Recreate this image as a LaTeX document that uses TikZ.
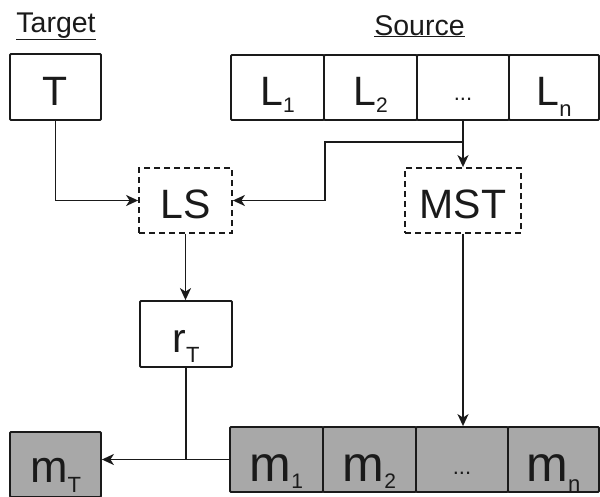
\documentclass[tikz,border=0pt]{standalone}
\usepackage{fontspec}
\setmainfont{Liberation Sans}
\usetikzlibrary{arrows.meta}
\definecolor{ink}{HTML}{1A1A1A}
\definecolor{cellgray}{HTML}{A8A8A8}
\newcommand\fbig{\fontsize{41}{41}\selectfont}
\newcommand\fm{\fontsize{50}{50}\selectfont}
\newcommand\fmt{\fontsize{45}{45}\selectfont}
\newcommand\fhead{\fontsize{28.5}{28.5}\selectfont}
\newcommand\fdots{\fontsize{22}{22}\selectfont}
\newcommand\sbd[1]{\raisebox{-7pt}[0pt][0pt]{\fontsize{21}{21}\selectfont #1}}
\newcommand\sbl[1]{\raisebox{-10.5pt}[0pt][0pt]{\fontsize{22}{22}\selectfont #1}}
\begin{document}
\begin{tikzpicture}[x=1pt,y=-1pt,
  box/.style={draw=ink, line width=1.8pt, rounded corners=1pt, inner sep=0pt,
    text=ink, text depth=0pt, text height=36pt, font=\fbig},
  dbox/.style={box, dashed, dash pattern=on 6pt off 4pt, rounded corners=0pt},
  mbox/.style={box, fill=cellgray, text height=43pt, font=\fm},
  head/.style={text=ink, font=\fhead, inner sep=0pt, anchor=base},
  conn/.style={draw=ink, line width=1.8pt},
  arr/.style={conn, -{Stealth[length=12pt,width=11pt,inset=3.5pt]}}]
\useasboundingbox (0,0) rectangle (600,496);
% headings
\node[head] (tgt) at (56,32) {\underline{Target}};
\node[head] (src) at (419.5,35) {\underline{Source}};
% top row
\node[box, minimum width=91pt, minimum height=66pt] (T) at (55.5,87) {T};
\node[box, minimum width=93pt, minimum height=65pt] (L1) at (277.5,87.5) {L\sbd{1}};
\node[box, minimum width=93pt, minimum height=65pt] (L2) at (370.5,87.5) {L\sbd{2}};
\node[box, minimum width=92pt, minimum height=65pt, font=\fdots, text height=25pt] (Ld) at (463,87.5) {...};
\node[box, minimum width=90pt, minimum height=65pt] (Ln) at (554,87.5) {L\sbl{n}};
% middle
\node[dbox, minimum width=93pt, minimum height=65pt] (LS) at (185.5,200.5) {LS};
\node[dbox, minimum width=116pt, minimum height=65pt] (MST) at (463,200.5) {MST};
\node[box, minimum width=92pt, minimum height=66pt] (rT) at (186,334) {r\sbl{T}};
% bottom row
\node[mbox, minimum width=91pt, minimum height=65pt, font=\fmt, text height=35pt] (mT) at (55.5,464.5) {m\sbl{T}};
\node[mbox, minimum width=93pt, minimum height=65pt] (m1) at (276.5,459.5) {m\sbd{1}};
\node[mbox, minimum width=93pt, minimum height=65pt] (m2) at (369.5,459.5) {m\sbd{2}};
\node[mbox, minimum width=92pt, minimum height=65pt, font=\fdots, text height=29pt] (md) at (462,459.5) {...};
\node[mbox, minimum width=91pt, minimum height=65pt] (mn) at (553.5,459.5) {m\sbl{n}};
% connectors
\coordinate (br) at (463,142);
\draw[arr] (T.south) |- (LS.west);
\draw[arr] (Ld.south) -- (MST.north);
\draw[arr] (br) -- ++(-138,0) |- (LS.east);
\draw[arr] (LS.south) -- (LS.south |- rT.north);
\draw[conn] (rT.south) -- (rT.south |- m1.west);
\draw[arr] (m1.west) -- (mT.east |- m1.west);
\draw[arr] (MST.south) -- (MST.south |- md.north);
\end{tikzpicture}
\end{document}
